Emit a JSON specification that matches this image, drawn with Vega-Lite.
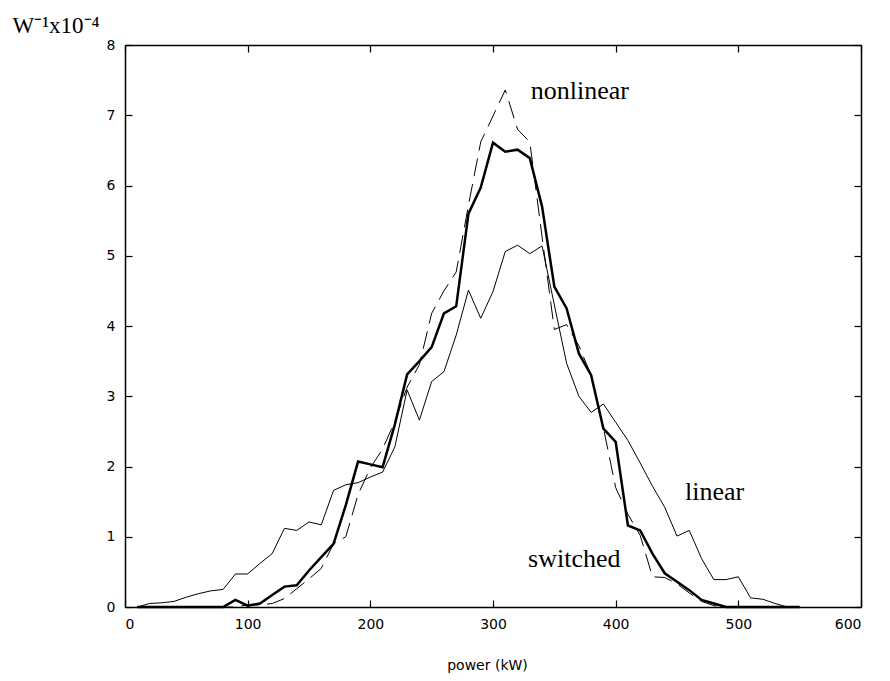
{
  "$schema": "https://vega.github.io/schema/vega-lite/v6.json",
  "width": 736,
  "height": 562,
  "autosize": {"type": "none"},
  "padding": {"left": 125, "top": 45, "right": 29, "bottom": 74},
  "background": "white",
  "config": {
    "view": {"stroke": null},
    "axis": {
      "grid": false,
      "domainColor": "black",
      "domainWidth": 1.5,
      "tickColor": "black",
      "tickWidth": 1.2,
      "tickSize": -7,
      "labelColor": "black",
      "labelFont": "DejaVu Sans",
      "labelFontSize": 14,
      "titleColor": "black",
      "titleFontWeight": "normal"
    }
  },
  "datasets": {
    "curves": [
      {"p": 10, "v": 0, "s": "linear"}, {"p": 20, "v": 0.05, "s": "linear"}, {"p": 30, "v": 0.06, "s": "linear"}, {"p": 40, "v": 0.08, "s": "linear"}, {"p": 50, "v": 0.14, "s": "linear"}, {"p": 60, "v": 0.19, "s": "linear"}, {"p": 70, "v": 0.23, "s": "linear"}, {"p": 80, "v": 0.25, "s": "linear"}, {"p": 90, "v": 0.47, "s": "linear"}, {"p": 100, "v": 0.47, "s": "linear"},
      {"p": 110, "v": 0.62, "s": "linear"}, {"p": 120, "v": 0.76, "s": "linear"}, {"p": 130, "v": 1.12, "s": "linear"}, {"p": 140, "v": 1.09, "s": "linear"}, {"p": 150, "v": 1.21, "s": "linear"}, {"p": 160, "v": 1.17, "s": "linear"}, {"p": 170, "v": 1.66, "s": "linear"}, {"p": 180, "v": 1.74, "s": "linear"}, {"p": 190, "v": 1.77, "s": "linear"}, {"p": 200, "v": 1.85, "s": "linear"},
      {"p": 210, "v": 1.92, "s": "linear"}, {"p": 220, "v": 2.28, "s": "linear"}, {"p": 230, "v": 3.09, "s": "linear"}, {"p": 240, "v": 2.66, "s": "linear"}, {"p": 250, "v": 3.21, "s": "linear"}, {"p": 260, "v": 3.35, "s": "linear"}, {"p": 270, "v": 3.87, "s": "linear"}, {"p": 280, "v": 4.51, "s": "linear"}, {"p": 290, "v": 4.11, "s": "linear"}, {"p": 300, "v": 4.49, "s": "linear"},
      {"p": 310, "v": 5.06, "s": "linear"}, {"p": 320, "v": 5.15, "s": "linear"}, {"p": 330, "v": 5.03, "s": "linear"}, {"p": 340, "v": 5.14, "s": "linear"}, {"p": 350, "v": 4.3, "s": "linear"}, {"p": 360, "v": 3.47, "s": "linear"}, {"p": 370, "v": 3.0, "s": "linear"}, {"p": 380, "v": 2.77, "s": "linear"}, {"p": 390, "v": 2.89, "s": "linear"}, {"p": 400, "v": 2.63, "s": "linear"},
      {"p": 410, "v": 2.37, "s": "linear"}, {"p": 420, "v": 2.05, "s": "linear"}, {"p": 430, "v": 1.72, "s": "linear"}, {"p": 440, "v": 1.42, "s": "linear"}, {"p": 450, "v": 1.01, "s": "linear"}, {"p": 460, "v": 1.09, "s": "linear"}, {"p": 470, "v": 0.69, "s": "linear"}, {"p": 480, "v": 0.39, "s": "linear"}, {"p": 490, "v": 0.39, "s": "linear"}, {"p": 500, "v": 0.43, "s": "linear"},
      {"p": 510, "v": 0.13, "s": "linear"}, {"p": 520, "v": 0.11, "s": "linear"}, {"p": 530, "v": 0.05, "s": "linear"}, {"p": 540, "v": 0, "s": "linear"}, {"p": 550, "v": 0, "s": "linear"},

      {"p": 10, "v": 0, "s": "nonlinear"}, {"p": 20, "v": 0, "s": "nonlinear"}, {"p": 30, "v": 0, "s": "nonlinear"}, {"p": 40, "v": 0, "s": "nonlinear"}, {"p": 50, "v": 0, "s": "nonlinear"}, {"p": 60, "v": 0, "s": "nonlinear"}, {"p": 70, "v": 0, "s": "nonlinear"}, {"p": 80, "v": 0, "s": "nonlinear"}, {"p": 90, "v": 0, "s": "nonlinear"}, {"p": 100, "v": 0.03, "s": "nonlinear"},
      {"p": 110, "v": 0.03, "s": "nonlinear"}, {"p": 120, "v": 0.05, "s": "nonlinear"}, {"p": 130, "v": 0.12, "s": "nonlinear"}, {"p": 140, "v": 0.26, "s": "nonlinear"}, {"p": 150, "v": 0.4, "s": "nonlinear"}, {"p": 160, "v": 0.55, "s": "nonlinear"}, {"p": 170, "v": 0.9, "s": "nonlinear"}, {"p": 180, "v": 1.0, "s": "nonlinear"}, {"p": 190, "v": 1.6, "s": "nonlinear"}, {"p": 200, "v": 1.98, "s": "nonlinear"},
      {"p": 210, "v": 2.25, "s": "nonlinear"}, {"p": 220, "v": 2.64, "s": "nonlinear"}, {"p": 230, "v": 3.13, "s": "nonlinear"}, {"p": 240, "v": 3.45, "s": "nonlinear"}, {"p": 250, "v": 4.18, "s": "nonlinear"}, {"p": 260, "v": 4.5, "s": "nonlinear"}, {"p": 270, "v": 4.77, "s": "nonlinear"}, {"p": 280, "v": 5.72, "s": "nonlinear"}, {"p": 290, "v": 6.62, "s": "nonlinear"}, {"p": 300, "v": 6.99, "s": "nonlinear"},
      {"p": 310, "v": 7.36, "s": "nonlinear"}, {"p": 320, "v": 6.8, "s": "nonlinear"}, {"p": 330, "v": 6.62, "s": "nonlinear"}, {"p": 340, "v": 5.27, "s": "nonlinear"}, {"p": 350, "v": 3.95, "s": "nonlinear"}, {"p": 360, "v": 4.02, "s": "nonlinear"}, {"p": 370, "v": 3.72, "s": "nonlinear"}, {"p": 380, "v": 3.3, "s": "nonlinear"}, {"p": 390, "v": 2.55, "s": "nonlinear"}, {"p": 400, "v": 1.7, "s": "nonlinear"},
      {"p": 410, "v": 1.32, "s": "nonlinear"}, {"p": 420, "v": 1.02, "s": "nonlinear"}, {"p": 430, "v": 0.43, "s": "nonlinear"}, {"p": 440, "v": 0.42, "s": "nonlinear"}, {"p": 450, "v": 0.33, "s": "nonlinear"}, {"p": 460, "v": 0.2, "s": "nonlinear"}, {"p": 470, "v": 0.08, "s": "nonlinear"}, {"p": 480, "v": 0.02, "s": "nonlinear"}, {"p": 490, "v": 0, "s": "nonlinear"},

      {"p": 10, "v": 0, "s": "switched"}, {"p": 20, "v": 0, "s": "switched"}, {"p": 30, "v": 0, "s": "switched"}, {"p": 40, "v": 0, "s": "switched"}, {"p": 50, "v": 0, "s": "switched"}, {"p": 60, "v": 0, "s": "switched"}, {"p": 70, "v": 0, "s": "switched"}, {"p": 80, "v": 0, "s": "switched"}, {"p": 90, "v": 0.1, "s": "switched"}, {"p": 100, "v": 0.02, "s": "switched"},
      {"p": 110, "v": 0.05, "s": "switched"}, {"p": 120, "v": 0.17, "s": "switched"}, {"p": 130, "v": 0.29, "s": "switched"}, {"p": 140, "v": 0.31, "s": "switched"}, {"p": 150, "v": 0.52, "s": "switched"}, {"p": 160, "v": 0.71, "s": "switched"}, {"p": 170, "v": 0.9, "s": "switched"}, {"p": 180, "v": 1.45, "s": "switched"}, {"p": 190, "v": 2.07, "s": "switched"}, {"p": 200, "v": 2.03, "s": "switched"},
      {"p": 210, "v": 1.99, "s": "switched"}, {"p": 220, "v": 2.6, "s": "switched"}, {"p": 230, "v": 3.31, "s": "switched"}, {"p": 240, "v": 3.5, "s": "switched"}, {"p": 250, "v": 3.7, "s": "switched"}, {"p": 260, "v": 4.18, "s": "switched"}, {"p": 270, "v": 4.28, "s": "switched"}, {"p": 280, "v": 5.6, "s": "switched"}, {"p": 290, "v": 5.97, "s": "switched"}, {"p": 300, "v": 6.61, "s": "switched"},
      {"p": 310, "v": 6.48, "s": "switched"}, {"p": 320, "v": 6.51, "s": "switched"}, {"p": 330, "v": 6.39, "s": "switched"}, {"p": 340, "v": 5.7, "s": "switched"}, {"p": 350, "v": 4.56, "s": "switched"}, {"p": 360, "v": 4.25, "s": "switched"}, {"p": 370, "v": 3.61, "s": "switched"}, {"p": 380, "v": 3.3, "s": "switched"}, {"p": 390, "v": 2.54, "s": "switched"}, {"p": 400, "v": 2.35, "s": "switched"},
      {"p": 410, "v": 1.16, "s": "switched"}, {"p": 420, "v": 1.09, "s": "switched"}, {"p": 430, "v": 0.76, "s": "switched"}, {"p": 440, "v": 0.48, "s": "switched"}, {"p": 450, "v": 0.36, "s": "switched"}, {"p": 460, "v": 0.24, "s": "switched"}, {"p": 470, "v": 0.1, "s": "switched"}, {"p": 480, "v": 0.05, "s": "switched"}, {"p": 490, "v": 0, "s": "switched"}, {"p": 500, "v": 0, "s": "switched"},
      {"p": 510, "v": 0, "s": "switched"}, {"p": 520, "v": 0, "s": "switched"}, {"p": 530, "v": 0, "s": "switched"}, {"p": 540, "v": 0, "s": "switched"}, {"p": 550, "v": 0, "s": "switched"}
    ],
    "labels": [
      {"p": 370.8, "v": 7.23, "label": "nonlinear"},
      {"p": 480.6, "v": 1.52, "label": "linear"},
      {"p": 366.3, "v": 0.57, "label": "switched"}
    ]
  },
  "layer": [
    {
      "data": {"name": "curves"},
      "transform": [{"filter": "datum.s == 'linear'"}],
      "mark": {"type": "line", "color": "black", "strokeWidth": 1},
      "encoding": {
        "x": {
          "field": "p", "type": "quantitative",
          "scale": {"domain": [0, 600], "nice": false, "zero": false},
          "axis": {
            "orient": "bottom",
            "values": [0, 100, 200, 300, 400, 500, 600],
            "labelPadding": 17,
            "title": "power (kW)",
            "titleFont": "DejaVu Sans",
            "titleFontSize": 14,
            "titleX": 362,
            "titleY": 62,
            "titleBaseline": "alphabetic"
          }
        },
        "y": {
          "field": "v", "type": "quantitative",
          "scale": {"domain": [0, 8], "nice": false},
          "axis": {
            "orient": "left",
            "values": [0, 1, 2, 3, 4, 5, 6, 7, 8],
            "labelPadding": 17,
            "title": "W⁻¹x10⁻⁴",
            "titleFont": "Liberation Serif",
            "titleFontSize": 23,
            "titleAngle": 0,
            "titleAlign": "left",
            "titleBaseline": "alphabetic",
            "titleX": -113,
            "titleY": -13
          }
        }
      }
    },
    {
      "data": {"name": "curves"},
      "transform": [{"filter": "datum.s == 'nonlinear'"}],
      "mark": {"type": "line", "color": "black", "strokeWidth": 1, "strokeDash": [18, 8]},
      "encoding": {
        "x": {"field": "p", "type": "quantitative", "axis": null},
        "y": {"field": "v", "type": "quantitative", "axis": null}
      }
    },
    {
      "data": {"name": "curves"},
      "transform": [{"filter": "datum.s == 'switched'"}],
      "mark": {"type": "line", "color": "black", "strokeWidth": 2.5},
      "encoding": {
        "x": {
          "field": "p", "type": "quantitative",
          "axis": {"orient": "top", "values": [0, 100, 200, 300, 400, 500, 600], "labels": false, "title": null}
        },
        "y": {
          "field": "v", "type": "quantitative",
          "axis": {"orient": "right", "values": [0, 1, 2, 3, 4, 5, 6, 7, 8], "labels": false, "title": null}
        }
      }
    },
    {
      "data": {"name": "labels"},
      "mark": {"type": "text", "font": "Liberation Serif", "fontSize": 26, "color": "black", "align": "center", "baseline": "alphabetic"},
      "encoding": {
        "x": {"field": "p", "type": "quantitative", "axis": null},
        "y": {"field": "v", "type": "quantitative", "axis": null},
        "text": {"field": "label"}
      }
    }
  ],
  "resolve": {"axis": {"x": "independent", "y": "independent"}}
}
